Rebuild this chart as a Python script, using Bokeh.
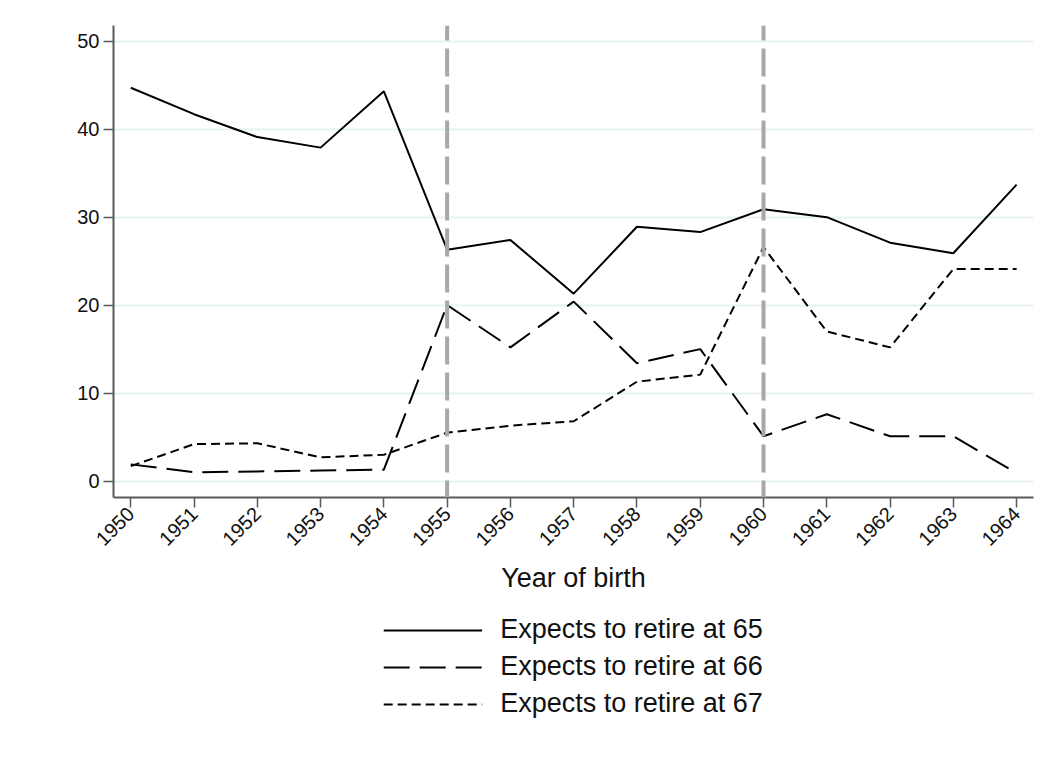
import math
from bokeh.plotting import figure
from bokeh.layouts import column
from bokeh.models import Span, Legend, LegendItem, Range1d, FixedTicker, ColumnDataSource
from bokeh.embed import file_html
from bokeh.resources import INLINE

years = [1950, 1951, 1952, 1953, 1954, 1955, 1956, 1957, 1958, 1959, 1960, 1961, 1962, 1963, 1964]
retire_65 = [44.7, 41.7, 39.1, 37.9, 44.3, 26.3, 27.4, 21.3, 28.9, 28.3, 30.9, 30.0, 27.1, 25.9, 33.7]
retire_66 = [1.9, 1.0, 1.1, 1.2, 1.3, 20.0, 15.2, 20.4, 13.4, 15.0, 5.1, 7.6, 5.1, 5.1, 0.9]
retire_67 = [1.7, 4.2, 4.3, 2.7, 3.0, 5.5, 6.3, 6.8, 11.3, 12.1, 26.6, 17.0, 15.2, 24.1, 24.1]
series_labels = ["Expects to retire at 65", "Expects to retire at 66", "Expects to retire at 67"]
y_ticks = [0, 10, 20, 30, 40, 50]
reference_years = [1955, 1960]
x_label = "Year of birth"

FONT = "Liberation Sans"
DASH_66 = "26 10"
DASH_67 = "9 5"

W = 1043
H1 = 608
BL, BR = 113, 10
p = figure(width=W, height=H1, output_backend="svg", toolbar_location=None,
           title=None,
           x_range=Range1d(1949.727, 1964.267), y_range=Range1d(-1.865, 51.78),
           min_border_left=BL, min_border_right=BR, min_border_top=25,
           min_border_bottom=H1 - 25 - 472)
p.outline_line_color = None
p.background_fill_color = "white"
p.border_fill_color = "white"

# grid
p.xgrid.grid_line_color = None
p.ygrid.grid_line_color = "#e8f1f3"
p.ygrid.grid_line_width = 2
p.ygrid.ticker = FixedTicker(ticks=y_ticks)

# axes
for ax in (p.xaxis[0], p.yaxis[0]):
    ax.axis_line_color = "#5a5a5a"
    ax.axis_line_width = 2
    ax.major_tick_line_color = "#5a5a5a"
    ax.major_tick_line_width = 1.5
    ax.major_tick_out = 10
    ax.major_tick_in = 0
    ax.minor_tick_line_color = None
    ax.major_label_text_font = FONT
    ax.major_label_text_font_size = "20px"
    ax.major_label_text_color = "#111111"

p.yaxis[0].ticker = FixedTicker(ticks=y_ticks)
p.yaxis[0].major_label_standoff = 4
p.xaxis[0].ticker = FixedTicker(ticks=years)
p.xaxis[0].major_label_orientation = math.pi / 4
p.xaxis[0].major_label_standoff = 3
p.xaxis[0].axis_label = x_label
p.xaxis[0].axis_label_text_font = FONT
p.xaxis[0].axis_label_text_font_size = "27px"
p.xaxis[0].axis_label_text_font_style = "normal"
p.xaxis[0].axis_label_text_color = "#111111"
p.xaxis[0].axis_label_standoff = 8

# reference lines
for ry in reference_years:
    p.add_layout(Span(location=ry, dimension="height", line_color="#a8a8a8",
                      line_width=4, line_dash="28 8", line_dash_offset=13))

src = ColumnDataSource(dict(x=years, a=retire_65, b=retire_66, c=retire_67))
p.line("x", "a", source=src, line_color="black", line_width=2)
p.line("x", "b", source=src, line_color="black", line_width=2, line_dash=DASH_66)
p.line("x", "c", source=src, line_color="black", line_width=2, line_dash=DASH_67)

# legend panel below the plot (same side borders so the column keeps frames aligned)
H2 = 749 - H1
q = figure(width=W, height=H2, output_backend="svg", toolbar_location=None,
           title=None, x_range=Range1d(1949.727, 1964.267), y_range=Range1d(-1.865, 51.78),
           min_border_left=BL, min_border_right=BR, min_border_top=0, min_border_bottom=0)
q.axis.visible = False
q.grid.visible = False
q.outline_line_color = None
q.border_fill_color = "white"
l65 = q.line("x", "a", source=src, line_color="black", line_width=2, visible=False)
l66 = q.line("x", "b", source=src, line_color="black", line_width=2, line_dash=DASH_66, visible=False)
l67 = q.line("x", "c", source=src, line_color="black", line_width=2, line_dash=DASH_67, visible=False)

legend = Legend(items=[LegendItem(label=series_labels[0], renderers=[l65]),
                       LegendItem(label=series_labels[1], renderers=[l66]),
                       LegendItem(label=series_labels[2], renderers=[l67])],
                location="top_center", orientation="vertical",
                border_line_color=None, background_fill_alpha=0,
                label_text_font=FONT, label_text_font_size="27px", label_text_color="#111111",
                glyph_width=99, glyph_height=28, label_height=28, label_standoff=18,
                spacing=6, padding=0, margin=6)
q.add_layout(legend, "center")

open("out.html", "w").write(file_html(column(p, q, spacing=0), INLINE))
